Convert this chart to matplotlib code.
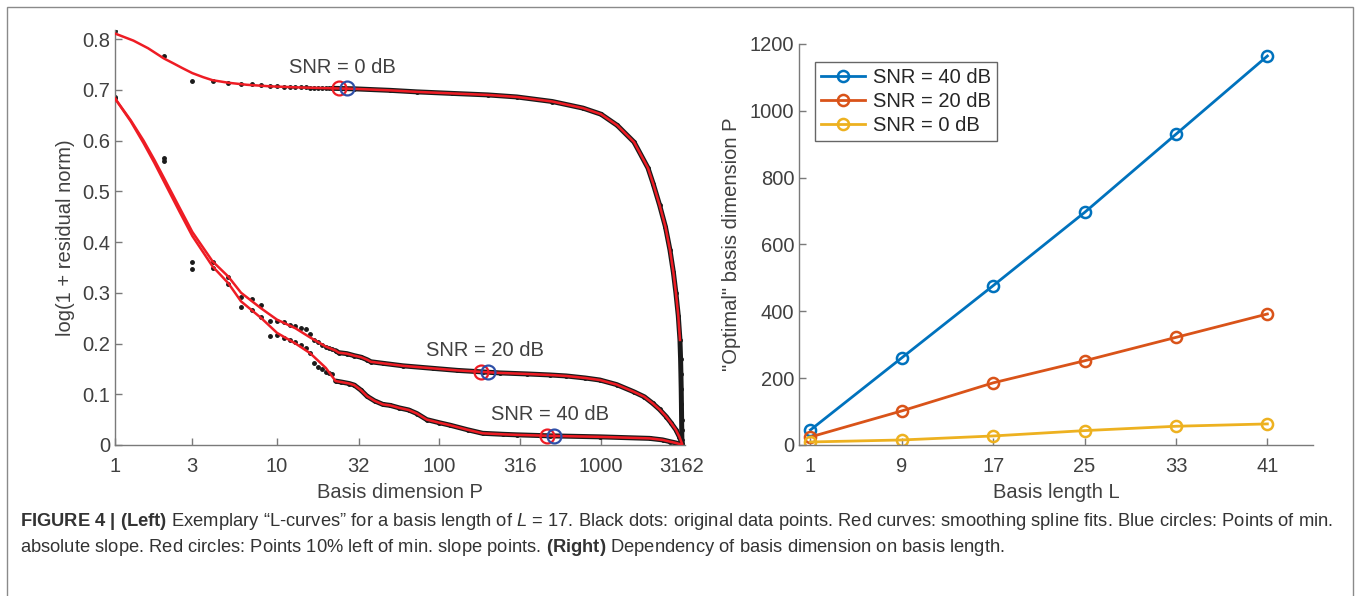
import matplotlib
matplotlib.use("Agg")
from matplotlib import pyplot as plt
from matplotlib import font_manager
from matplotlib.patches import Rectangle
import numpy as np

# ---- left panel: L-curves for basis length L = 17 ----
# individual data points (P = 1..22)
p_dots = np.arange(1, 23)
dots_0db = [0.816, 0.766, 0.718, 0.718, 0.714, 0.711, 0.711, 0.709, 0.708, 0.707, 0.706,
            0.706, 0.705, 0.705, 0.705, 0.704, 0.704, 0.704, 0.704, 0.704, 0.703, 0.703]
dots_20db = [0.685, 0.565, 0.360, 0.361, 0.332, 0.292, 0.287, 0.276, 0.245, 0.245, 0.242,
             0.236, 0.234, 0.231, 0.228, 0.219, 0.207, 0.202, 0.198, 0.194, 0.192, 0.190]
dots_40db = [0.683, 0.560, 0.347, 0.348, 0.317, 0.271, 0.266, 0.253, 0.215, 0.216, 0.210,
             0.206, 0.202, 0.198, 0.192, 0.181, 0.161, 0.154, 0.150, 0.144, 0.142, 0.140]

# dense part of the data (merges into a band)
p_band_0db = [22, 30, 50, 73, 120, 200, 302, 500, 774, 1000, 1260, 1600, 1950, 2100, 2300,
              2500, 2667, 2800, 2900, 3000, 3073, 3100, 3115, 3128, 3138, 3146, 3152, 3158]
band_0db = [0.703, 0.702, 0.699, 0.696, 0.693, 0.690, 0.686, 0.677, 0.664, 0.652, 0.630,
            0.597, 0.546, 0.515, 0.473, 0.430, 0.384, 0.340, 0.300, 0.255, 0.207, 0.170,
            0.140, 0.110, 0.080, 0.050, 0.030, 0.010]
p_band_20db = [23, 24, 27, 30, 33, 36, 38, 45, 60, 92, 130, 186, 238, 350, 484, 612, 800,
               985, 1250, 1590, 1850, 2088, 2300, 2525, 2700, 2900, 3050, 3160]
band_20db = [0.186, 0.182, 0.180, 0.176, 0.173, 0.168, 0.164, 0.161, 0.156, 0.151, 0.147,
             0.144, 0.142, 0.140, 0.138, 0.136, 0.132, 0.128, 0.119, 0.105, 0.095, 0.082,
             0.070, 0.056, 0.044, 0.030, 0.016, 0.003]
p_band_40db = [23, 25, 28, 30, 33, 36, 40, 45, 50, 57, 65, 73, 84, 100, 117, 150, 186, 250,
               301, 484, 985, 2000, 2400, 2670, 2900, 3050, 3160]
band_40db = [0.126, 0.124, 0.121, 0.118, 0.108, 0.096, 0.087, 0.080, 0.078, 0.073, 0.069,
             0.062, 0.050, 0.044, 0.039, 0.030, 0.023, 0.021, 0.020, 0.018, 0.016, 0.013,
             0.010, 0.0065, 0.004, 0.002, 0.0]

# start of the smoothing spline fits (beyond that they follow the bands)
p_fit_0db = [1, 1.3, 1.6, 2, 2.3, 2.6, 3, 3.5, 4, 5, 6.5, 9, 13]
fit_0db = [0.811, 0.797, 0.782, 0.762, 0.752, 0.743, 0.733, 0.725, 0.719, 0.714, 0.710,
           0.707, 0.705]
p_fit_low = [1, 1.25, 1.5, 1.75, 2, 2.5, 3, 4, 5, 6, 8, 10, 13, 16, 20]
fit_20db = [0.683, 0.640, 0.600, 0.562, 0.527, 0.468, 0.420, 0.362, 0.332, 0.300, 0.269,
            0.247, 0.230, 0.212, 0.194]
fit_40db = [0.683, 0.638, 0.595, 0.556, 0.520, 0.460, 0.412, 0.352, 0.319, 0.283, 0.250,
            0.221, 0.200, 0.181, 0.152]

# min-slope points (blue) and 10 % left of them (red)
snr_names = ["SNR = 0 dB", "SNR = 20 dB", "SNR = 40 dB"]
p_min_slope = [27, 202, 515]
p_left10 = [24, 182, 463]
val_min_slope = [0.703, 0.144, 0.018]
label_p = [25.5, 192, 484]
label_val = [0.745, 0.187, 0.061]

log_ticks = [1, 3, 10, 32, 100, 316, 1000, 3162]

# ---- right panel ----
basis_len = [1, 9, 17, 25, 33, 41]
opt_40db = [45, 261, 477, 696, 930, 1164]
opt_20db = [24, 102, 186, 252, 322, 392]
opt_0db = [9, 15, 27, 43, 56, 63]

line_colors = {"40": "#0072BD", "20": "#D95319", "0": "#EDB120"}

names = [f.name for f in font_manager.fontManager.ttflist]
cap_font = "Liberation Sans Narrow" if "Liberation Sans Narrow" in names else "Liberation Sans"

plt.rcParams["font.family"] = ["Liberation Sans", "DejaVu Sans"]
plt.rcParams["mathtext.fontset"] = "custom"
plt.rcParams["mathtext.rm"] = cap_font
plt.rcParams["mathtext.it"] = cap_font + ":italic"
plt.rcParams["mathtext.bf"] = cap_font + ":bold"

txt_col = "#404040"
ax_col = "#7a7a7a"
fs = 14.5


def style_axes(ax):
    for s in ["top", "right"]:
        ax.spines[s].set_visible(False)
    for s in ["left", "bottom"]:
        ax.spines[s].set_color(ax_col)
        ax.spines[s].set_linewidth(1.0)
    ax.tick_params(direction="in", length=5, width=1.0, color=ax_col,
                   labelcolor=txt_col, labelsize=fs)
    ax.tick_params(axis="x", pad=9)


fig = plt.figure(figsize=(13.58, 5.96), dpi=100)

# left
ax1 = fig.add_axes([0.0847, 0.2534, 0.4197, 0.6963])
curves = [
    (dots_0db, p_band_0db, band_0db, p_fit_0db, fit_0db, 7),
    (dots_20db, p_band_20db, band_20db, p_fit_low, fit_20db, 0),
    (dots_40db, p_band_40db, band_40db, p_fit_low, fit_40db, 0),
]
for dots, pb, vb, pf, vf, cut in curves:
    ax1.plot(pb, vb, color="#1a1a1a", lw=3.6, solid_capstyle="round", zorder=2)
    ax1.plot(p_dots, dots, ".", color="#1a1a1a", ms=5, zorder=2)
    ax1.plot(pb, vb, ".", color="#1a1a1a", ms=5, zorder=2)
    tail = len(pb) - cut
    ax1.plot(list(pf) + list(pb[:tail]), list(vf) + list(vb[:tail]),
             color="#ee1c24", lw=1.8, zorder=3)

ax1.plot(p_left10, val_min_slope, "o", mfc="none", mec="#ee1c24", ms=10, mew=1.6, zorder=4)
ax1.plot(p_min_slope, val_min_slope, "o", mfc="none", mec="#2e4fa8", ms=10, mew=1.6, zorder=4)
for name, px, py in zip(snr_names, label_p, label_val):
    ax1.text(px, py, name, ha="center", va="center", fontsize=fs, color=txt_col)

ax1.set_xscale("log")
ax1.set_xlim(1, 3300)
ax1.set_ylim(0, 0.818)
ax1.set_xticks(log_ticks)
ax1.set_xticklabels([str(t) for t in log_ticks])
ax1.minorticks_off()
ax1.set_yticks(np.arange(0, 0.81, 0.1))
ax1.set_yticklabels(["0"] + [f"{v:.1f}" for v in np.arange(0.1, 0.81, 0.1)])
ax1.set_xlabel("Basis dimension P", fontsize=fs, color=txt_col, labelpad=5)
ax1.set_ylabel("log(1 + residual norm)", fontsize=fs, color=txt_col, labelpad=5)
style_axes(ax1)

# right
ax2 = fig.add_axes([0.5884, 0.2534, 0.3785, 0.6728])
ax2.plot(basis_len, opt_40db, "-o", color=line_colors["40"], lw=2, ms=8, mfc="none",
         mew=1.8, label="SNR = 40 dB")
ax2.plot(basis_len, opt_20db, "-o", color=line_colors["20"], lw=2, ms=8, mfc="none",
         mew=1.8, label="SNR = 20 dB")
ax2.plot(basis_len, opt_0db, "-o", color=line_colors["0"], lw=2, ms=8, mfc="none",
         mew=1.8, label="SNR = 0 dB")
ax2.set_xlim(0, 45)
ax2.set_ylim(0, 1200)
ax2.set_xticks(basis_len)
ax2.set_yticks(range(0, 1201, 200))
ax2.set_xlabel("Basis length L", fontsize=fs, color=txt_col, labelpad=5)
ax2.set_ylabel('"Optimal" basis dimension P', fontsize=fs, color=txt_col, labelpad=6)
style_axes(ax2)
leg = ax2.legend(loc="upper left", bbox_to_anchor=(0.031, 0.955), fontsize=fs,
                 frameon=True, fancybox=False, handlelength=2.2, handletextpad=0.4,
                 borderpad=0.3, labelspacing=0.25, borderaxespad=0)
leg.get_frame().set_edgecolor("#404040")
leg.get_frame().set_linewidth(1.0)
for t in leg.get_texts():
    t.set_color("#262626")

# caption
line1 = (r"$\mathbf{FIGURE\ 4\ |\ (Left)}$ Exemplary “L-curves” for a basis length of "
         r"$L$ = 17. Black dots: original data points. Red curves: smoothing spline fits. "
         r"Blue circles: Points of min.")
line2 = (r"absolute slope. Red circles: Points 10% left of min. slope points. "
         r"$\mathbf{(Right)}$ Dependency of basis dimension on basis length.")
cap_size = 16 if cap_font != "Liberation Sans" else 13.2
fig.text(20 / 1358, 1 - 521 / 596, line1, fontsize=cap_size, family=cap_font,
         color="#333333", va="center", ha="left")
fig.text(20 / 1358, 1 - 548 / 596, line2, fontsize=cap_size, family=cap_font,
         color="#333333", va="center", ha="left")

# frame around the figure
fig.add_artist(Rectangle((7 / 1358, -0.05), 1346 / 1358, 1.05 - 7 / 596,
                         transform=fig.transFigure, fill=False, ec="#8a8a8a", lw=1.0))

fig.savefig("out.png", dpi=100)
